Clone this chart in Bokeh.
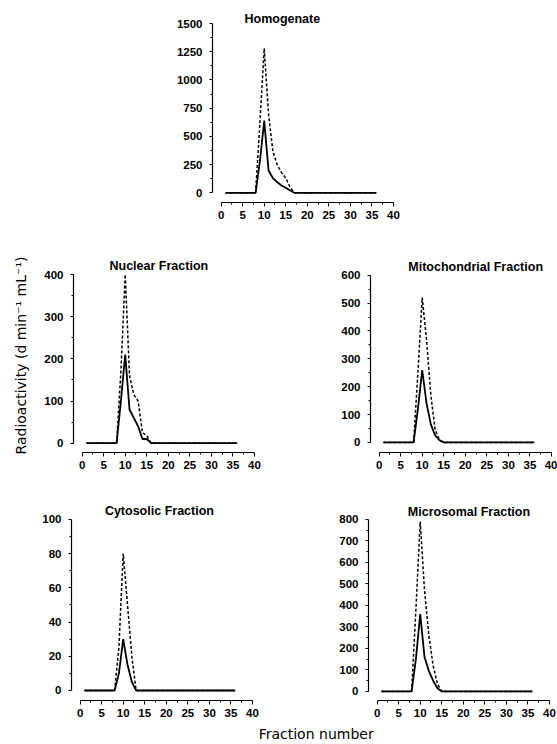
from bokeh.plotting import figure
from bokeh.layouts import column, row
from bokeh.models import Range1d, FixedTicker, Label
from bokeh.embed import file_html
from bokeh.resources import INLINE

# ---------------- data ----------------
fractions = list(range(1, 37))

homog_solid = [0, 0, 0, 0, 0, 0, 0, 0, 280, 640, 200, 130, 95, 65, 45, 20, 0] + [0] * 19
homog_dashed = [0, 0, 0, 0, 0, 0, 0, 0, 620, 1280, 700, 370, 250, 180, 130, 50, 0] + [0] * 19

nuclear_solid = [0, 0, 0, 0, 0, 0, 0, 0, 100, 210, 80, 60, 40, 10, 10, 0] + [0] * 20
nuclear_dashed = [0, 0, 0, 0, 0, 0, 0, 0, 170, 400, 160, 115, 100, 25, 18, 0] + [0] * 20

mito_solid = [0, 0, 0, 0, 0, 0, 0, 0, 120, 260, 140, 65, 25, 8, 0] + [0] * 21
mito_dashed = [0, 0, 0, 0, 0, 0, 0, 0, 250, 520, 370, 170, 45, 10, 0] + [0] * 21

cyto_solid = [0, 0, 0, 0, 0, 0, 0, 0, 10, 30, 15, 5, 0] + [0] * 23
cyto_dashed = [0, 0, 0, 0, 0, 0, 0, 0, 25, 80, 50, 20, 0] + [0] * 23

micro_solid = [0, 0, 0, 0, 0, 0, 0, 0, 150, 360, 160, 95, 50, 15, 0] + [0] * 21
micro_dashed = [0, 0, 0, 0, 0, 0, 0, 0, 380, 790, 470, 260, 120, 35, 0] + [0] * 21

x_ticks = [0, 5, 10, 15, 20, 25, 30, 35, 40]
homog_ticks = [0, 250, 500, 750, 1000, 1250, 1500]
nuclear_ticks = [0, 100, 200, 300, 400]
mito_ticks = [0, 100, 200, 300, 400, 500, 600]
cyto_ticks = [0, 20, 40, 60, 80, 100]
micro_ticks = [0, 100, 200, 300, 400, 500, 600, 700, 800]

titles = ["Homogenate", "Nuclear Fraction", "Mitochondrial Fraction",
          "Cytosolic Fraction", "Microsomal Fraction"]
y_label = "Radioactivity (d min\u207b\u00b9 mL\u207b\u00b9)"
x_label = "Fraction number"

TICK_FONT = "Liberation Sans"


def minor_of(ticks):
    out = []
    for a, b in zip(ticks[:-1], ticks[1:]):
        out.append((a + b) / 2)
    return out


def panel(title, title_x, title_y, solid, dashed, yticks, y_start, y_end,
          width, height, left, right, top, bottom, ylab=None):
    p = figure(width=width, height=height, output_backend="svg",
               toolbar_location=None,
               x_range=Range1d(-2, 40), y_range=Range1d(y_start, y_end),
               min_border_left=left, min_border_right=right,
               min_border_top=top, min_border_bottom=bottom)
    p.outline_line_color = None
    p.xgrid.visible = False
    p.ygrid.visible = False
    p.background_fill_color = "white"
    p.border_fill_color = "white"

    p.line(fractions, solid, line_color="black", line_width=1.8)
    p.line(fractions, dashed, line_color="black", line_width=1.5,
           line_dash="3 2")

    xa = p.xaxis[0]
    xa.ticker = FixedTicker(ticks=x_ticks, minor_ticks=minor_of(x_ticks))
    xa.bounds = (0, 40)
    ya = p.yaxis[0]
    ya.ticker = FixedTicker(ticks=yticks, minor_ticks=minor_of(yticks))
    ya.bounds = (0, yticks[-1])
    for ax in (xa, ya):
        ax.axis_line_color = "black"
        ax.axis_line_width = 1.2
        ax.major_tick_line_color = "black"
        ax.minor_tick_line_color = "black"
        ax.major_tick_in = 0
        ax.minor_tick_in = 0
        ax.major_label_text_font = TICK_FONT
        ax.major_label_text_font_style = "bold"
        ax.major_label_text_font_size = "11.5px"
        ax.major_label_text_color = "black"
    xa.major_tick_out = 4
    xa.minor_tick_out = 2
    xa.major_label_standoff = 4
    ya.major_tick_out = 3
    ya.minor_tick_out = 2
    ya.major_label_standoff = 7
    if ylab:
        ya.axis_label = ylab
        ya.axis_label_text_font = "DejaVu Sans"
        ya.axis_label_text_font_style = "normal"
        ya.axis_label_text_font_size = "14px"
        ya.axis_label_text_color = "black"
        ya.axis_label_standoff = 12

    p.add_layout(Label(x=title_x, y=title_y, text=title, text_align="center",
                       text_baseline="middle", text_font=TICK_FONT,
                       text_font_style="bold", text_font_size="12.5px",
                       text_color="black"))
    return p


p_h = panel(titles[0], 14.2, 1544, homog_solid, homog_dashed, homog_ticks,
            -86, 1633, 557, 240, 212, 164, 8, 38)
p_n = panel(titles[1], 17.8, 421, nuclear_solid, nuclear_dashed, nuclear_ticks,
            -22, 438, 280, 250, 73, 26, 18, 38, ylab=y_label)
p_m = panel(titles[2], 22.4, 629, mito_solid, mito_dashed, mito_ticks,
            -36, 660, 277, 250, 90, 6, 18, 35)
p_c = panel(titles[3], 18.4, 104.8, cyto_solid, cyto_dashed, cyto_ticks,
            -5.85, 111, 280, 232, 71, 28, 10, 22)
p_s = panel(titles[4], 21.3, 834, micro_solid, micro_dashed, micro_ticks,
            -42, 888, 277, 232, 88, 8, 10, 22)

foot = figure(width=557, height=22, output_backend="svg", toolbar_location=None,
              x_range=Range1d(0, 557), y_range=Range1d(0, 22),
              x_axis_location=None, y_axis_location=None, min_border=0)
foot.outline_line_color = None
foot.xgrid.visible = False
foot.ygrid.visible = False
foot.add_layout(Label(x=319, y=11, text=x_label, text_align="center",
                      text_baseline="middle", text_font="DejaVu Sans",
                      text_font_size="14px", text_color="black"))

layout = column(p_h, row(p_n, p_m), row(p_c, p_s), foot)

open("out.html", "w").write(file_html(layout, INLINE))
